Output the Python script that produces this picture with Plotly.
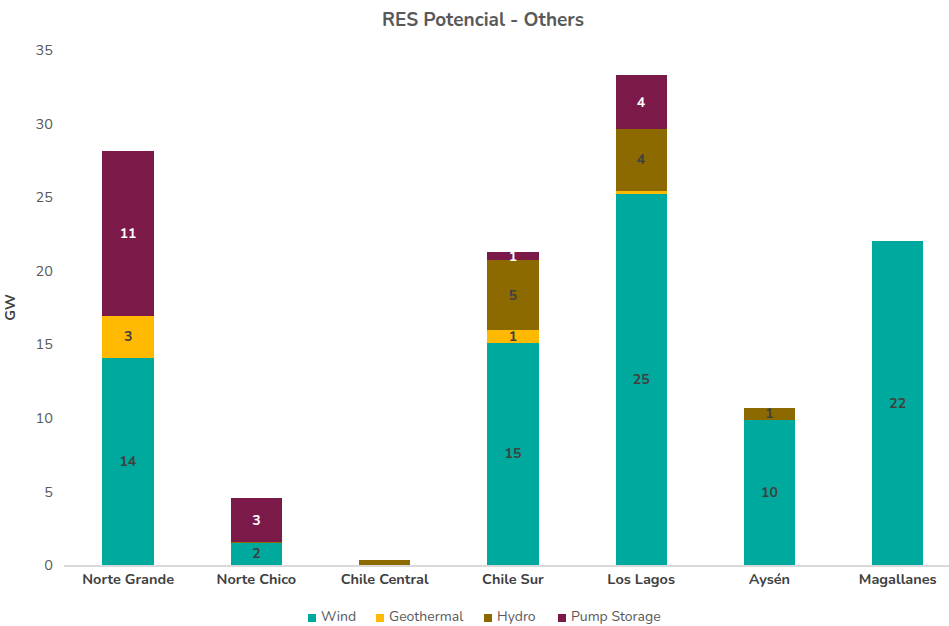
import plotly.graph_objects as go

regions = ["Norte Grande", "Norte Chico", "Chile Central", "Chile Sur", "Los Lagos", "Aysén", "Magallanes"]
wind = [14.1, 1.5, 0, 15.1, 25.2, 9.85, 22.0]
geothermal = [2.8, 0, 0, 0.84, 0.23, 0, 0]
hydro = [0, 0.05, 0.35, 4.8, 4.2, 0.85, 0]
pump_storage = [11.25, 3.0, 0, 0.52, 3.65, 0, 0]

series = [
    ("Wind", wind, "#00A99D", "#404040"),
    ("Geothermal", geothermal, "#FFB900", "#404040"),
    ("Hydro", hydro, "#8C6A00", "#404040"),
    ("Pump Storage", pump_storage, "#7B1A48", "#FFFFFF"),
]

FONT = "Nunito, Lato, 'Noto Sans', sans-serif"
W, H = 949, 626
ML, MR, MT, MB = 64, 0, 50, 61
PW, PH = W - ML - MR, H - MT - MB


def px_x(px):
    return (px - ML) / PW


def px_y(py):
    return (H - MB - py) / PH


fig = go.Figure()
for name, vals, color, tcolor in series:
    labels = [f"<b>{v:.0f}</b>" if v >= 0.5 else "" for v in vals]
    fig.add_trace(go.Bar(
        name=name, x=regions, y=vals, marker=dict(color=color, line=dict(width=0)),
        text=labels, textposition="inside", insidetextanchor="middle", textangle=0,
        textfont=dict(color=tcolor, size=14, family=FONT),
        hoverinfo="x+y+name", width=0.4, showlegend=False,
    ))

# legend: colored square + label per series
legend_items = [(307, 320), (375, 388), (483, 496), (557, 570)]
shapes, annots = [], []
for (sq_px, txt_px), (name, _, color, _) in zip(legend_items, series):
    shapes.append(dict(type="rect", xref="paper", yref="paper",
                       x0=px_x(sq_px + 1), x1=px_x(sq_px + 9),
                       y0=px_y(622), y1=px_y(614),
                       fillcolor=color, line=dict(width=0)))
    annots.append(dict(text=name, xref="paper", yref="paper", x=px_x(txt_px), y=px_y(616),
                       xanchor="left", yanchor="middle", showarrow=False, borderpad=0,
                       font=dict(size=14, color="#595959", family=FONT)))

fig.update_layout(
    barmode="stack",
    width=W, height=H,
    margin=dict(l=ML, r=MR, t=MT, b=MB, autoexpand=False),
    paper_bgcolor="white", plot_bgcolor="white",
    font=dict(family=FONT, color="#595959", size=14),
    title=dict(text="<b>RES Potencial - Others</b>", x=483 / W, xanchor="center",
               y=1 - 19 / H, yanchor="middle", xref="container", yref="container",
               font=dict(size=19, color="#595959")),
    uniformtext=dict(minsize=14, mode="show"),
    showlegend=False,
    shapes=shapes,
    annotations=annots,
)
fig.update_xaxes(
    range=[-0.5, 6.4], showgrid=False, showline=True, linecolor="#D9D9D9", linewidth=1.5,
    ticks="", tickfont=dict(size=14.5, color="#404040", family=FONT),
    tickprefix="<b>", ticksuffix="</b>",
)
fig.update_yaxes(
    range=[0, 35], dtick=5, showgrid=False, zeroline=False, showline=False,
    tickfont=dict(size=14.5, color="#595959"), ticklabelstandoff=10,
    title=dict(text="<b>GW</b>", font=dict(size=14.5, color="#404040"), standoff=18),
)

fig.write_html("out.html")
